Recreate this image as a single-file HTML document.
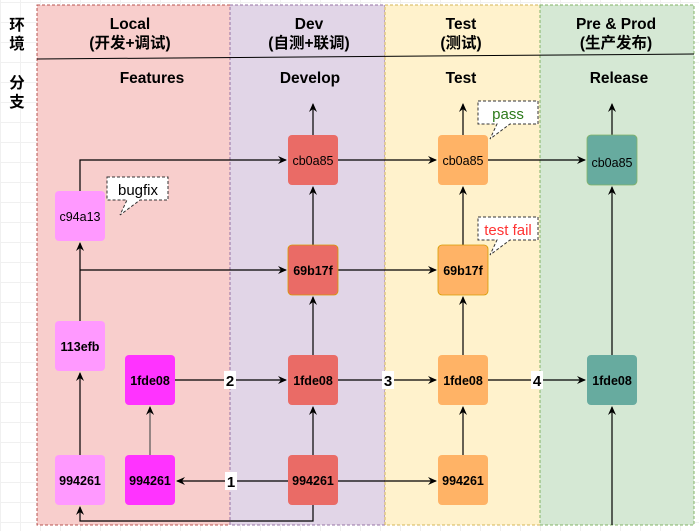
<!DOCTYPE html>
<html><head><meta charset="utf-8"><style>
html,body{margin:0;padding:0;}
body{width:699px;height:531px;overflow:hidden;background-color:#fff;
background-image:linear-gradient(#f0f0f0 1px,transparent 1px),linear-gradient(90deg,#f0f0f0 1px,transparent 1px);background-size:20px 20px;background-position:0 2px;}
svg{position:absolute;left:0;top:0;}
text{font-family:"Liberation Sans","Noto Sans CJK SC",sans-serif;}
</style></head><body>
<svg width="699" height="531" viewBox="0 0 699 531">
<defs><marker id="a" markerWidth="10" markerHeight="10" refX="8" refY="5" orient="auto" markerUnits="userSpaceOnUse"><path d="M0,1 L9,5 L0,9 L3,5 Z" fill="#000"/></marker></defs>
<rect x="37" y="5" width="193" height="520" fill="#f8cecc" stroke="#b85450" stroke-dasharray="3,2"/>
<rect x="230" y="5" width="155" height="520" fill="#e1d5e7" stroke="#9673a6" stroke-dasharray="3,2"/>
<rect x="385" y="5" width="155" height="520" fill="#fff2cc" stroke="#d6b656" stroke-dasharray="3,2"/>
<rect x="540" y="5" width="154" height="520" fill="#d5e8d4" stroke="#82b366" stroke-dasharray="3,2"/>
<line x1="37" y1="59" x2="694" y2="54" stroke="#000"/>
<g font-size="15.5" font-weight="bold" text-anchor="middle">
<text x="130" y="29">Local</text><text x="130" y="48">(开发+调试)</text>
<text x="309" y="29">Dev</text><text x="309" y="48">(自测+联调)</text>
<text x="461" y="29">Test</text><text x="461" y="48">(测试)</text>
<text x="616" y="29">Pre &amp; Prod</text><text x="616" y="48">(生产发布)</text>
<text x="152" y="83">Features</text><text x="310" y="83">Develop</text><text x="461" y="83">Test</text><text x="619" y="83">Release</text>
<text x="17" y="30">环</text><text x="17" y="49">境</text><text x="17" y="88">分</text><text x="17" y="107">支</text>
</g>
<g stroke="#000" stroke-width="1.2" fill="none" marker-end="url(#a)">
<path d="M80,191 V160 H286"/>
<path d="M338,160 H436"/>
<path d="M488,160 H585"/>
<path d="M313,135 V104"/>
<path d="M463,135 V104"/>
<path d="M612,135 V104"/>
<path d="M80,321 V243"/>
<path d="M80,455 V373"/>
<path d="M80,270 H286"/>
<path d="M338,270 H436"/>
<path d="M313,245 V187"/>
<path d="M463,245 V187"/>
<path d="M313,355 V297"/>
<path d="M463,355 V297"/>
<path d="M612,355 V187"/>
<path d="M175,380 H286"/>
<path d="M338,380 H436"/>
<path d="M488,380 H585"/>
<path d="M150,455 V407" stroke="#555"/>
<path d="M313,455 V407"/>
<path d="M463,455 V407"/>
<path d="M288,481 H177"/>
<path d="M338,481 H436"/>
<path d="M313,505 V521 H80 V507"/>
<path d="M612,525 V407"/>
</g>
<g font-size="15" font-weight="bold" text-anchor="middle">
<rect x="225" y="472" width="12" height="18" fill="#fff"/><text x="231" y="487">1</text>
<rect x="224" y="371" width="12" height="18" fill="#fff"/><text x="230" y="386">2</text>
<rect x="382" y="371" width="12" height="18" fill="#fff"/><text x="388" y="386">3</text>
<rect x="531" y="371" width="12" height="18" fill="#fff"/><text x="537" y="386">4</text>
</g>
<g font-size="12.5" text-anchor="middle">
<rect x="55" y="191" width="50" height="50" rx="4" fill="#ff99ff"/><text x="80" y="221">c94a13</text>
<rect x="55" y="321" width="50" height="50" rx="4" fill="#ff99ff"/><text x="80" y="351" font-weight="bold">113efb</text>
<rect x="55" y="455" width="50" height="50" rx="4" fill="#ff99ff"/><text x="80" y="485" font-weight="bold">994261</text>
<rect x="125" y="355" width="50" height="50" rx="4" fill="#ff33ff"/><text x="150" y="385" font-weight="bold">1fde08</text>
<rect x="125" y="455" width="50" height="50" rx="4" fill="#ff33ff"/><text x="150" y="485" font-weight="bold">994261</text>
<rect x="288" y="135" width="50" height="50" rx="4" fill="#ea6b66"/><text x="313" y="165">cb0a85</text>
<rect x="288" y="245" width="50" height="50" rx="4" fill="#ea6b66" stroke="#d79b00" stroke-width="0.8"/><text x="313" y="275" font-weight="bold">69b17f</text>
<rect x="288" y="355" width="50" height="50" rx="4" fill="#ea6b66"/><text x="313" y="385" font-weight="bold">1fde08</text>
<rect x="288" y="455" width="50" height="50" rx="4" fill="#ea6b66"/><text x="313" y="485" font-weight="bold">994261</text>
<rect x="438" y="135" width="50" height="50" rx="4" fill="#ffb366"/><text x="463" y="165">cb0a85</text>
<rect x="438" y="245" width="50" height="50" rx="4" fill="#ffb366" stroke="#d79b00" stroke-width="0.8"/><text x="463" y="275" font-weight="bold">69b17f</text>
<rect x="438" y="355" width="50" height="50" rx="4" fill="#ffb366"/><text x="463" y="385" font-weight="bold">1fde08</text>
<rect x="438" y="455" width="50" height="50" rx="4" fill="#ffb366"/><text x="463" y="485" font-weight="bold">994261</text>
<rect x="587" y="135" width="50" height="50" rx="4" fill="#67ab9f" stroke="#82b366" stroke-width="0.8"/><text x="612" y="167">cb0a85</text>
<rect x="587" y="355" width="50" height="50" rx="4" fill="#67ab9f"/><text x="612" y="385" font-weight="bold">1fde08</text>
</g>
<g stroke="#333" stroke-dasharray="3,2" fill="#fff" font-size="15">
<path d="M107,177 H168 V200 H140 L120,215 L127,200 H107 Z"/>
<path d="M478,101 H538 V124 H510 L490,139 L497,124 H478 Z"/>
<path d="M478,217 H538 V240 H510 L490,255 L497,240 H478 Z"/>
</g>
<g font-size="15" text-anchor="middle">
<text x="138" y="195" fill="#000">bugfix</text>
<text x="508" y="119" fill="#2d7a1a">pass</text>
<text x="508" y="235" fill="#ff3333">test fail</text>
</g>
</svg>
</body></html>
